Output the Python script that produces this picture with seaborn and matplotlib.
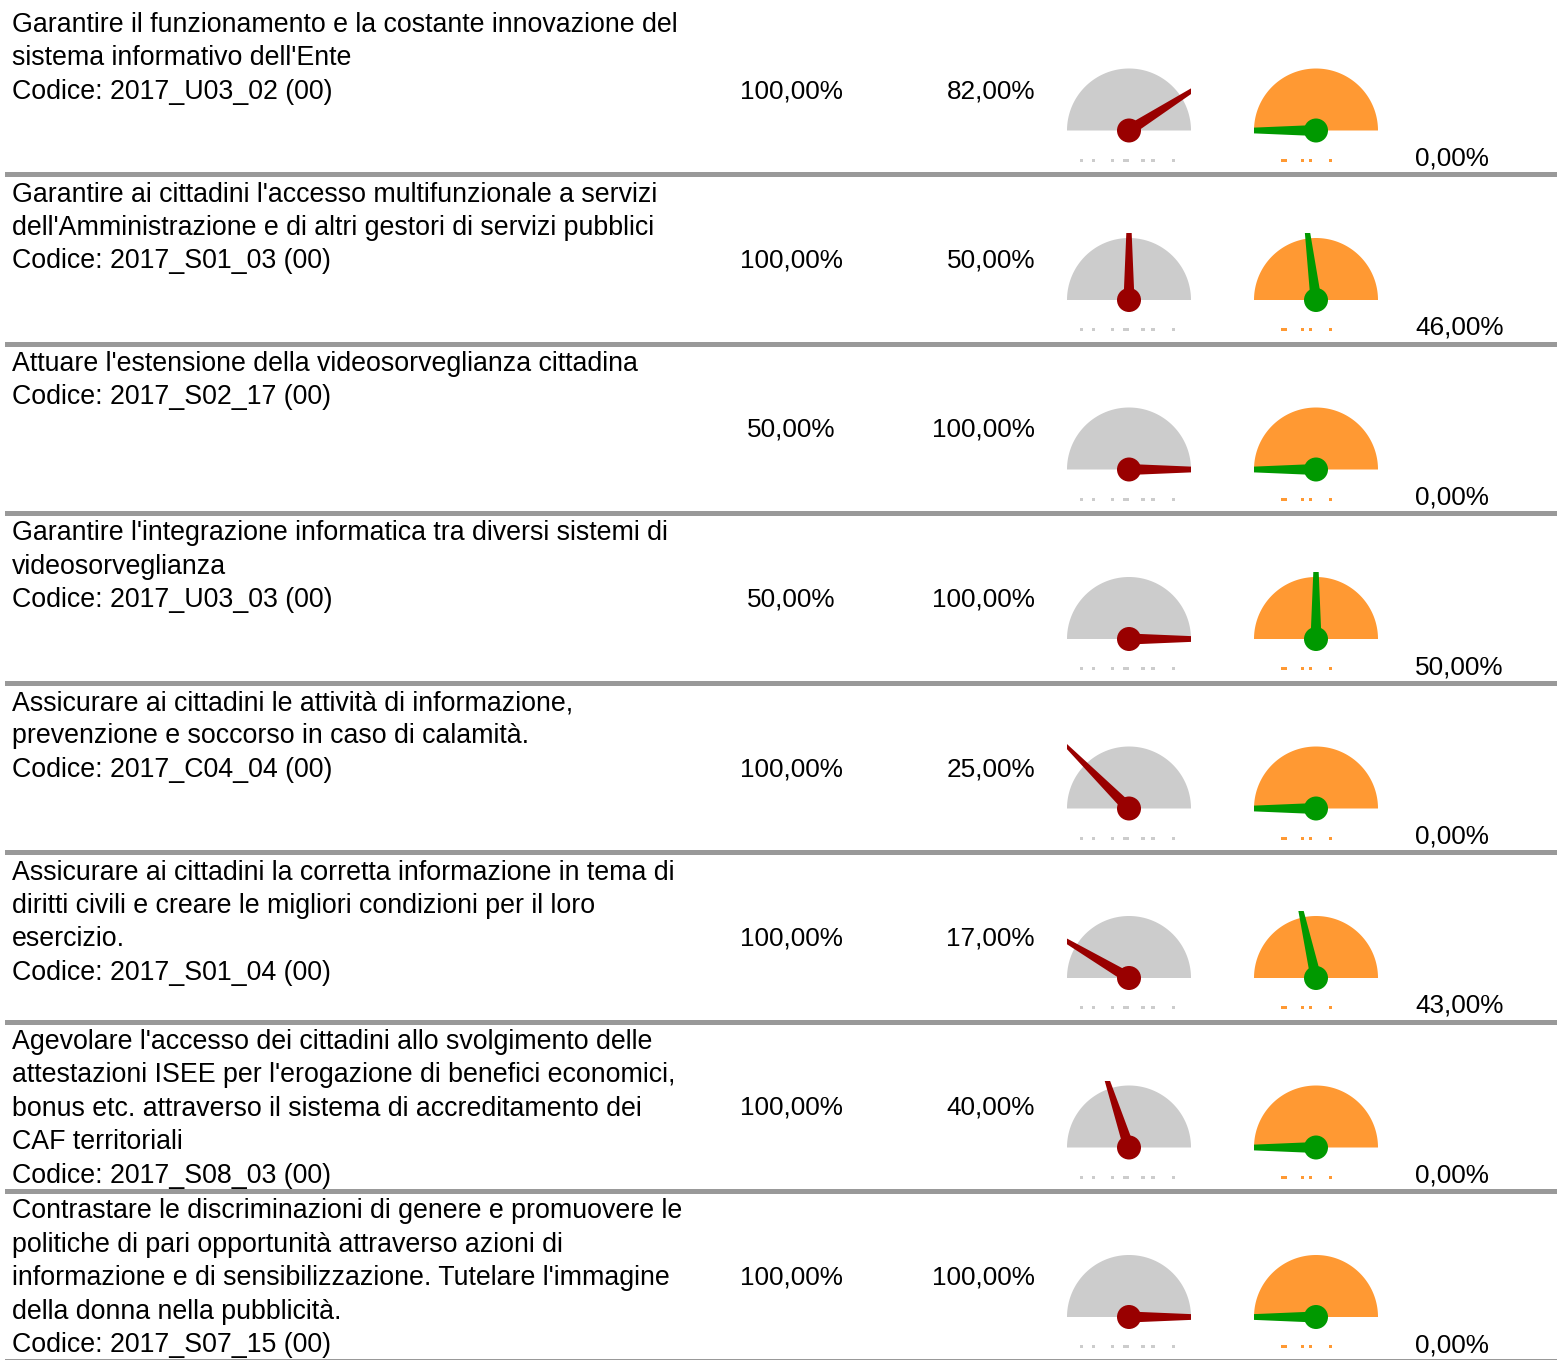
import numpy as np
import matplotlib
matplotlib.use("Agg")
import matplotlib.pyplot as plt
from matplotlib.patches import Circle, Rectangle, Polygon
import seaborn as sns

# ---------------- data ----------------
descriptions = [
    ["Garantire il funzionamento e la costante innovazione del",
     "sistema informativo dell'Ente",
     "Codice: 2017_U03_02 (00)"],
    ["Garantire ai cittadini l'accesso multifunzionale a servizi",
     "dell'Amministrazione e di altri gestori di servizi pubblici",
     "Codice: 2017_S01_03 (00)"],
    ["Attuare l'estensione della videosorveglianza cittadina",
     "Codice: 2017_S02_17 (00)"],
    ["Garantire l'integrazione informatica tra diversi sistemi di",
     "videosorveglianza",
     "Codice: 2017_U03_03 (00)"],
    ["Assicurare ai cittadini le attività di informazione,",
     "prevenzione e soccorso in caso di calamità.",
     "Codice: 2017_C04_04 (00)"],
    ["Assicurare ai cittadini la corretta informazione in tema di",
     "diritti civili e creare le migliori condizioni per il loro",
     "esercizio.",
     "Codice: 2017_S01_04 (00)"],
    ["Agevolare l'accesso dei cittadini allo svolgimento delle",
     "attestazioni ISEE per l'erogazione di benefici economici,",
     "bonus etc. attraverso il sistema di accreditamento dei",
     "CAF territoriali",
     "Codice: 2017_S08_03 (00)"],
    ["Contrastare le discriminazioni di genere e promuovere le",
     "politiche di pari opportunità attraverso azioni di",
     "informazione e di sensibilizzazione. Tutelare l'immagine",
     "della donna nella pubblicità.",
     "Codice: 2017_S07_15 (00)"],
]
peso = [100, 100, 50, 50, 100, 100, 100, 100]          # column 2
avanzamento = [82, 50, 100, 100, 25, 17, 40, 100]      # column 3 / grey gauge
raggiungimento = [0, 46, 0, 50, 0, 43, 0, 0]           # last column / orange gauge

# ---------------- style ----------------
sns.set_theme(style="white")
plt.rcParams['font.family'] = ['Liberation Sans', 'DejaVu Sans']
plt.rcParams['text.color'] = 'black'

W, H = 1557, 1360
DPI = 100
fig = plt.figure(figsize=(W / DPI, H / DPI), dpi=DPI)
ax = fig.add_axes([0, 0, 1, 1])
ax.set_xlim(0, W)
ax.set_ylim(H, 0)
ax.axis("off")

FS = 18.8
FS_DESC = 19.3
ROW_H = 169.5
FIRST_SEP = 5.0
LINE_SP = 33.4

GREY = "#cccccc"
RED = "#990000"
ORANGE = "#ff9933"
GREEN = "#009900"
SEP = "#999999"

def fmt(v):
    return f"{v:.2f}".replace(".", ",") + "%"

def gauge(cx, cy, value, face, needle, tick_offsets):
    r = 62
    t = np.linspace(0, np.pi, 120)
    xs = np.concatenate([cx + r * np.cos(t), [cx - r]])
    ys = np.concatenate([cy - r * np.sin(t), [cy]])
    ax.fill(xs, ys, color=face, lw=0, zorder=2)
    # needle
    ang = np.pi * (1 - value / 100.0)
    L = 95
    ux, uy = np.cos(ang), -np.sin(ang)
    px, py = -uy, ux
    wb, wt = 5.5, 1.5
    pts = [(cx + px * wb, cy + py * wb),
           (cx + ux * L + px * wt, cy + uy * L + py * wt),
           (cx + ux * L - px * wt, cy + uy * L - py * wt),
           (cx - px * wb, cy - py * wb)]
    poly = Polygon(pts, closed=True, color=needle, lw=0, zorder=3)
    ax.add_patch(poly)
    clip = Rectangle((cx - 62, cy - 67), 124, 90, transform=ax.transData)
    poly.set_clip_path(clip)
    ax.add_patch(Circle((cx, cy), 12, color=needle, lw=0, zorder=4))
    # small tick dashes below
    for (dx, w) in tick_offsets:
        ax.add_patch(Rectangle((cx + dx, cy + 28), w, 3, color=face, lw=0, zorder=2))

grey_ticks = [(-49, 3), (-37, 3), (-18, 3), (-6, 6), (12, 4), (22, 4), (43, 3)]
orange_ticks = [(-35, 6), (-15, 3), (-7, 3), (13, 3)]

for i in range(len(descriptions)):
    top = FIRST_SEP + i * ROW_H
    for j, line in enumerate(descriptions[i]):
        ax.text(12, top + 27 + j * LINE_SP, line, fontsize=FS_DESC, color="black",
                ha="left", va="baseline", zorder=5)
    ax.text(791, top + 93, fmt(peso[i]), fontsize=FS, color="black",
            ha="center", va="baseline")
    ax.text(1035, top + 93, fmt(avanzamento[i]), fontsize=FS, color="black",
            ha="right", va="baseline")
    ax.text(1415, top + 160.5, fmt(raggiungimento[i]), fontsize=FS, color="black",
            ha="left", va="baseline")
    cy = top + 125.5
    gauge(1129, cy, avanzamento[i], GREY, RED, grey_ticks)
    gauge(1316, cy, raggiungimento[i], ORANGE, GREEN, orange_ticks)
    sep_y = top + ROW_H
    ax.add_patch(Rectangle((5, sep_y - 2.5), W - 5, 5, color=SEP, lw=0, zorder=1))

fig.savefig("out.png", dpi=DPI)
